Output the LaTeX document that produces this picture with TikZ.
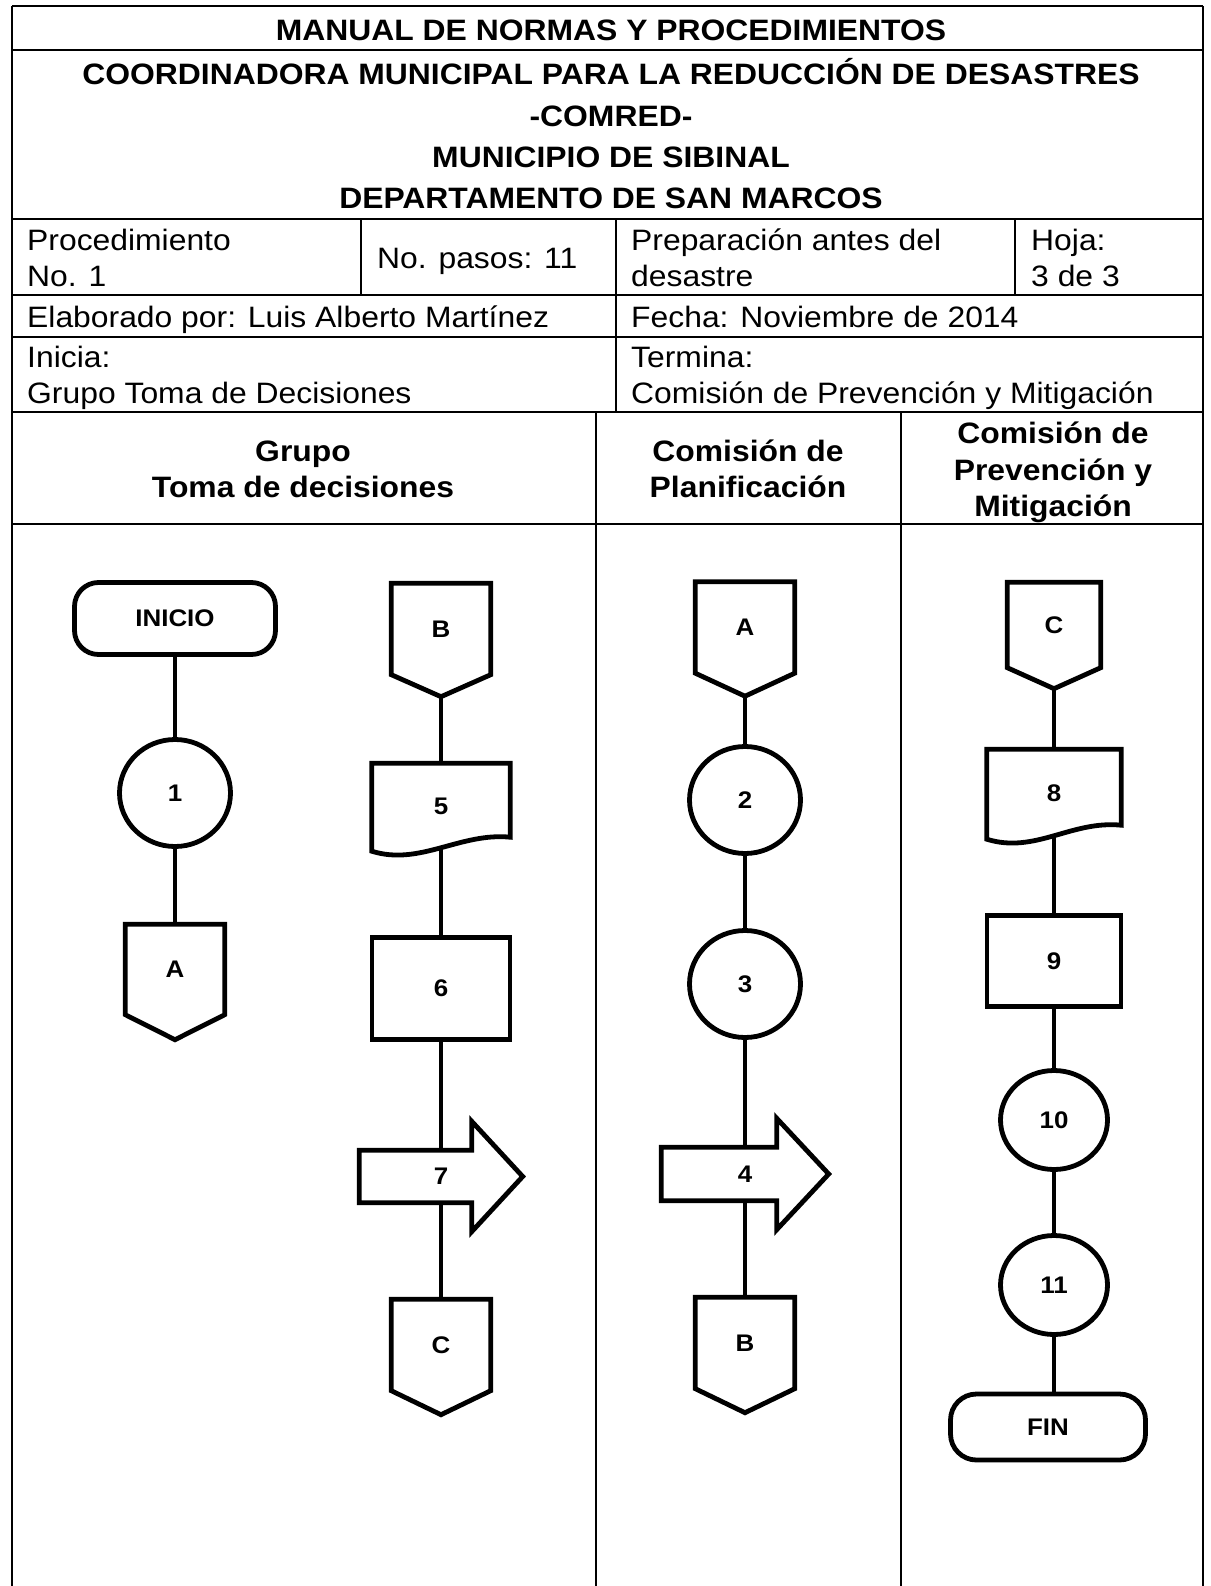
\documentclass[tikz,border=0pt]{standalone}
\usepackage{fontspec}
\setmainfont{Liberation Sans}[FakeStretch=1.08]
\usepackage{tikz}
\usetikzlibrary{shapes.geometric}
\usetikzlibrary{positioning}
\tikzset{rule/.style = {line width = 1.8pt}}
\tikzset{shapeline/.style = {line width = 4.8pt}}
\tikzset{link/.style = {line width = 4.5pt}}
\tikzset{hdr/.style = {font = \fontsize{29.5}{36}\selectfont\bfseries, inner sep = 0}}
\tikzset{txt/.style = {font = \fontsize{29.5}{36}\selectfont, inner sep = 0, anchor = base west}}
\tikzset{lbl/.style = {font = \fontsize{24}{28}\selectfont\bfseries, inner sep = 0}}
\tikzset{term/.style = {lbl, draw, shapeline, rounded corners = 24pt}}
\tikzset{stepcirc/.style = {lbl, draw, shapeline, ellipse, minimum width = 111pt, minimum height = 107pt}}
\tikzset{plainbox/.style = {lbl, draw, shapeline}}
\tikzset{frame/.style = {lbl}}
% outlines drawn round undrawn nodes
\newcommand{\offpage}[2]{%
  \draw [shapeline] (#1.north west) -- (#1.north east) -- (#1.south east)
    -- ([shift={(0,#2)}]#1.south) -- (#1.south west) -- cycle;
  \coordinate (#1-tip) at ([shift={(0,#2)}]#1.south);}
\newcommand{\docshape}[1]{%
  \draw [shapeline] (#1.north west) -- (#1.north east) -- ([shift={(0,-11.5)}]#1.south east)
    .. controls +(-50,-5) and +(48,15) .. ([shift={(0,2.5)}]#1.south west) -- cycle;}
\newcommand{\arrowshape}[2]{%
  \draw [shapeline] (#1.north west) -- ([shift={(-#2,0)}]#1.north east)
    -- ([shift={(-#2,-29)}]#1.north east) -- (#1.east) -- ([shift={(-#2,29)}]#1.south east)
    -- ([shift={(-#2,0)}]#1.south east) -- (#1.south west) -- cycle;}

\begin{document}
\begin{tikzpicture}[x=1pt, y=-1pt]
    \useasboundingbox (0,0) rectangle (1210,1586);

    % table
    \foreach \y in {6,50,219,295,337,412,524}
      \draw [rule] (12,\y) -- (1203,\y);
    \draw [rule] (12,6) -- (12,1586);
    \draw [rule] (1203,6) -- (1203,1586);
    \draw [rule] (361,219) -- (361,295);
    \draw [rule] (1015,219) -- (1015,295);
    \draw [rule] (616,219) -- (616,412);
    \draw [rule] (596,412) -- (596,1586);
    \draw [rule] (901,412) -- (901,1586);

    \node [hdr, anchor=base] (h1) at (611,41) {MANUAL DE NORMAS Y PROCEDIMIENTOS};
    \node [hdr, anchor=base] (h2) at (611,85) {COORDINADORA MUNICIPAL PARA LA REDUCCIÓN DE DESASTRES};
    \node [hdr, anchor=base] (h3) at (611,127) {-COMRED-};
    \node [hdr, anchor=base] (h4) at (611,168) {MUNICIPIO DE SIBINAL};
    \node [hdr, anchor=base] (h5) at (611,209) {DEPARTAMENTO DE SAN MARCOS};

    \node [txt] (proc) at (27,251) {Procedimiento};
    \node [txt] (procno) at (27,287) {No. 1};
    \node [txt] (pasos) at (377,269) {No. pasos: 11};
    \node [txt] (prep) at (631,251) {Preparación antes del};
    \node [txt] (prepb) at (631,287) {desastre};
    \node [txt] (hoja) at (1031,251) {Hoja:};
    \node [txt] (hojab) at (1031,287) {3 de 3};
    \node [txt] (elab) at (27,327) {Elaborado por: Luis Alberto Martínez};
    \node [txt] (fecha) at (631,327) {Fecha: Noviembre de 2014};
    \node [txt] (inicia) at (27,367) {Inicia:};
    \node [txt] (iniciab) at (27,403) {Grupo Toma de Decisiones};
    \node [txt] (termina) at (631,367) {Termina:};
    \node [txt] (terminab) at (631,403) {Comisión de Prevención y Mitigación};

    \node [hdr, anchor=base] (lane1a) at (303,461) {Grupo};
    \node [hdr, anchor=base] (lane1b) at (303,497) {Toma de decisiones};
    \node [hdr, anchor=base] (lane2a) at (748,461) {Comisión de};
    \node [hdr, anchor=base] (lane2b) at (748,497) {Planificación};
    \node [hdr, anchor=base] (lane3a) at (1053,443) {Comisión de};
    \node [hdr, anchor=base] (lane3b) at (1053,480) {Prevención y};
    \node [hdr, anchor=base] (lane3c) at (1053,516) {Mitigación};

    % Grupo Toma de decisiones
    \node [term, minimum width=201pt, minimum height=72pt] (inicio) at (175,618.5) {INICIO};
    \node [stepcirc] (s1) at (175,793) {1};
    \node [frame, minimum width=99pt, minimum height=90pt] (A1) at (175,969.5) {A};
    \offpage{A1}{25}

    \node [frame, minimum width=99pt, minimum height=91pt] (B1) at (441,629) {B};
    \offpage{B1}{22}
    \node [frame, minimum width=138pt, minimum height=85pt] (s5) at (441,806) {5};
    \docshape{s5}
    \node [plainbox, minimum width=138pt, minimum height=102pt] (s6) at (441,988.5) {6};
    \node [frame, minimum width=163pt, minimum height=52pt] (s7) at (441,1176.5) {7};
    \arrowshape{s7}{51}
    \node [frame, minimum width=99pt, minimum height=91pt] (C1) at (441,1345) {C};
    \offpage{C1}{24}

    % Comision de Planificacion
    \node [frame, minimum width=99pt, minimum height=91pt] (A2) at (745,627.5) {A};
    \offpage{A2}{23}
    \node [stepcirc] (s2) at (745,800) {2};
    \node [stepcirc] (s3) at (745,984) {3};
    \node [frame, minimum width=167pt, minimum height=53pt] (s4) at (745,1174) {4};
    \arrowshape{s4}{52}
    \node [frame, minimum width=99pt, minimum height=91pt] (B2) at (745,1343) {B};
    \offpage{B2}{24}

    % Comision de Prevencion y Mitigacion
    \node [frame, minimum width=93pt, minimum height=85pt] (C3) at (1054,625) {C};
    \offpage{C3}{21}
    \node [frame, minimum width=134pt, minimum height=87pt] (s8) at (1054,793) {8};
    \docshape{s8}
    \node [plainbox, minimum width=134pt, minimum height=91pt] (s9) at (1054,961) {9};
    \node [stepcirc, minimum width=107pt, minimum height=99pt] (s10) at (1054,1120) {10};
    \node [stepcirc, minimum width=107pt, minimum height=99pt] (s11) at (1054,1285) {11};
    \node [term, rounded corners=26pt, minimum width=195pt, minimum height=66pt] (fin) at (1048,1427) {FIN};

    \draw [link] (inicio) -- (s1);
    \draw [link] (s1) -- (A1);
    \draw [link] (B1-tip) -- (s5);
    \draw [link] (s5) -- (s6);
    \draw [link] (s6) -- (s7);
    \draw [link] (s7) -- (C1);
    \draw [link] (A2-tip) -- (s2);
    \draw [link] (s2) -- (s3);
    \draw [link] (s3) -- (s4);
    \draw [link] (s4) -- (B2);
    \draw [link] (C3-tip) -- (s8);
    \draw [link] (s8) -- (s9);
    \draw [link] (s9) -- (s10);
    \draw [link] (s10) -- (s11);
    \draw [link] (s11) -- (s11 |- fin.north);
  \end{tikzpicture}
\end{document}
